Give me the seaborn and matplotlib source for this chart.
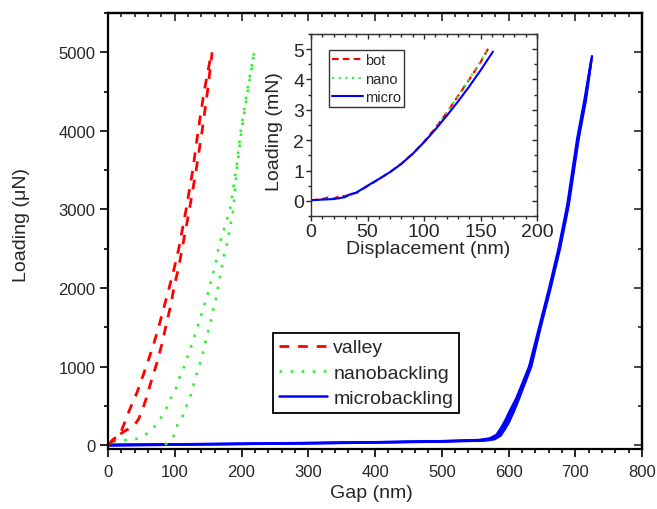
import matplotlib
matplotlib.use("Agg")
import matplotlib.pyplot as plt
import seaborn as sns
from matplotlib.ticker import MultipleLocator

# ---------------- main panel data (Gap in nm, Loading in uN) ----------------
valley_a_gap = [2, 6, 10, 15, 20, 25, 31, 37, 43, 48, 58, 68, 76, 84, 92, 99, 106, 117, 127, 135, 144, 155]
valley_a_load = [10, 60, 89, 110, 180, 290, 420, 546, 660, 778, 1019, 1273, 1506, 1760, 2014, 2246, 2500, 3000, 3500, 4000, 4500, 5000]
valley_b_gap = [0, 5, 10, 15, 20, 28, 34, 40, 46, 52, 57, 65, 73, 81, 87, 94, 99, 106, 111, 122, 132, 141, 149, 156]
valley_b_load = [0, 40, 70, 60, 150, 195, 215, 260, 334, 460, 588, 821, 1041, 1294, 1527, 1780, 2014, 2268, 2500, 3000, 3500, 4000, 4500, 5000]

nano_a_gap = [8, 15, 30, 43, 52, 60, 70, 79, 87, 94, 102, 107, 114, 119, 125, 130, 135, 140, 145, 150, 154, 158, 162, 165, 169, 183, 192, 199, 208, 219]
nano_a_load = [40, 59, 67, 80, 120, 152, 237, 343, 461, 596, 723, 859, 999, 1126, 1265, 1400, 1527, 1662, 1802, 1942, 2077, 2204, 2343, 2478, 2614, 3008, 3515, 4002, 4488, 4996]
nano_b_gap = [86, 89, 98, 100, 105, 114, 119, 125, 129, 134, 139, 143, 147, 151, 155, 158, 162, 165, 168, 171, 174, 178, 188, 193, 200, 209, 219]
nano_b_load = [0, 38, 110, 165, 279, 397, 533, 660, 799, 935, 1070, 1201, 1345, 1476, 1612, 1739, 1874, 2014, 2149, 2288, 2424, 2555, 3008, 3515, 4002, 4488, 4996]

micro_a_gap = [0, 100, 200, 300, 400, 500, 560, 575, 585, 592, 598, 605, 614, 632, 647, 662, 676, 689, 704, 715, 725]
micro_a_load = [0, 8, 16, 25, 35, 48, 62, 80, 127, 216, 305, 431, 596, 1000, 1500, 2000, 2500, 3050, 3900, 4400, 4950]
micro_b_gap = [0, 100, 200, 300, 400, 500, 565, 579, 588, 595, 601, 608, 616, 634, 648, 663, 677, 690, 705, 716, 724]
micro_b_load = [-5, 5, 14, 22, 33, 45, 58, 75, 120, 210, 300, 430, 600, 1000, 1500, 2000, 2500, 3050, 3900, 4400, 4900]
micro_c_gap = [0, 100, 200, 300, 400, 500, 555, 572, 582, 589, 595, 602, 612, 631, 646, 661, 675, 688, 703, 714, 723]
micro_c_load = [5, 10, 18, 27, 37, 50, 64, 85, 130, 220, 310, 435, 600, 1000, 1500, 2000, 2500, 3050, 3900, 4400, 4850]

# ---------------- inset data (Displacement in nm, Loading in mN) ----------------
bot_disp = [0, 10, 15, 20, 25, 30, 35, 40, 50, 60, 70, 80, 90, 100, 110, 120, 130, 140, 150, 157]
bot_load = [0.02, 0.06, 0.11, 0.07, 0.16, 0.16, 0.21, 0.26, 0.48, 0.71, 0.95, 1.23, 1.56, 1.95, 2.4, 2.9, 3.45, 4.0, 4.57, 5.03]
nano_disp = [0, 10, 15, 20, 25, 30, 35, 40, 50, 60, 70, 80, 90, 100, 110, 120, 130, 140, 150, 156]
nano_load = [0.01, 0.04, 0.06, 0.05, 0.09, 0.13, 0.18, 0.24, 0.47, 0.7, 0.94, 1.22, 1.55, 1.94, 2.39, 2.9, 3.46, 4.02, 4.6, 5.0]
micro_disp = [0, 10, 20, 30, 35, 40, 50, 60, 70, 80, 90, 100, 110, 120, 130, 140, 150, 161]
micro_load = [0.02, 0.04, 0.06, 0.12, 0.22, 0.27, 0.5, 0.72, 0.95, 1.22, 1.55, 1.93, 2.35, 2.8, 3.27, 3.77, 4.3, 4.92]

RED = "#ff0000"
GREEN = "#33ee33"
BLUE = "#0000ff"
DASH = (0, (3.5, 3.2))
DOT = (0, (1, 3.2))

sns.set_style("ticks")
plt.rcParams['font.family'] = ['Liberation Sans', 'DejaVu Sans']

fig = plt.figure(figsize=(6.57, 5.10), dpi=100)
ax = fig.add_axes([0.1644, 0.1176, 0.8128, 0.8549])


def draw(a, x, y, color, ls, lw, label=None):
    sns.lineplot(x=x, y=y, ax=a, sort=False, estimator=None, color=color,
                 linestyle=ls, linewidth=lw, label=label, legend=False)


draw(ax, micro_a_gap, micro_a_load, BLUE, "-", 1.8, "microbackling")
draw(ax, micro_b_gap, micro_b_load, BLUE, "-", 1.8)
draw(ax, micro_c_gap, micro_c_load, BLUE, "-", 1.8)
draw(ax, nano_a_gap, nano_a_load, GREEN, DOT, 1.9, "nanobackling")
draw(ax, nano_b_gap, nano_b_load, GREEN, DOT, 1.9)
draw(ax, valley_a_gap, valley_a_load, RED, DASH, 2.0, "valley")
draw(ax, valley_b_gap, valley_b_load, RED, DASH, 2.0)

ax.set_xlim(0, 800)
ax.set_ylim(-50, 5500)
ax.xaxis.set_major_locator(MultipleLocator(100))
ax.xaxis.set_minor_locator(MultipleLocator(20))
ax.yaxis.set_major_locator(MultipleLocator(1000))
ax.yaxis.set_minor_locator(MultipleLocator(500))
ax.tick_params(which='both', direction='out', width=1.2, labelsize=12, color='black')
ax.tick_params(axis='x', pad=5)
ax.tick_params(axis='y', pad=3)
ax.tick_params(which='major', length=6)
ax.tick_params(which='minor', length=3)
for s in ax.spines.values():
    s.set_linewidth(1.6)
    s.set_color('black')
    s.set_visible(True)

# mirrored ticks on top/right pointing inward
secx = ax.secondary_xaxis('top')
secx.xaxis.set_major_locator(MultipleLocator(100))
secx.xaxis.set_minor_locator(MultipleLocator(20))
secx.tick_params(which='both', direction='in', labeltop=False, width=1.2)
secx.tick_params(which='major', length=6)
secx.tick_params(which='minor', length=3)
secx.spines['top'].set_linewidth(1.6)
secy = ax.secondary_yaxis('right')
secy.yaxis.set_major_locator(MultipleLocator(1000))
secy.yaxis.set_minor_locator(MultipleLocator(500))
secy.tick_params(which='both', direction='in', labelright=False, width=1.2)
secy.tick_params(which='major', length=6)
secy.tick_params(which='minor', length=3)
secy.spines['right'].set_linewidth(1.6)

ax.set_xlabel("Gap (nm)", fontsize=14)
ax.set_ylabel("Loading (μN)", fontsize=14)
ax.xaxis.set_label_coords(0.494, -0.08)
ax.yaxis.set_label_coords(-0.146, 0.515)

handles, labels = ax.get_legend_handles_labels()
order = [labels.index(n) for n in ["valley", "nanobackling", "microbackling"]]
leg = ax.legend([handles[i] for i in order], [labels[i] for i in order],
                loc='upper left', bbox_to_anchor=(0.309, 0.266), fontsize=14,
                frameon=True, fancybox=False, framealpha=1, edgecolor='black',
                borderpad=0.3, labelspacing=0.4, handlelength=2.5,
                handletextpad=0.3, borderaxespad=0)
leg.get_frame().set_linewidth(1.3)

# ---------------- inset ----------------
ins = fig.add_axes([0.4734, 0.5745, 0.344, 0.3569])
ins.set_facecolor('white')
draw(ins, bot_disp, bot_load, RED, (0, (3.2, 2)), 1.5, "bot")
draw(ins, nano_disp, nano_load, GREEN, (0, (1, 2.2)), 1.5, "nano")
draw(ins, micro_disp, micro_load, BLUE, "-", 1.5, "micro")
ins.set_xlim(0, 200)
ins.set_ylim(-0.5, 5.5)
ins.xaxis.set_major_locator(MultipleLocator(50))
ins.xaxis.set_minor_locator(MultipleLocator(10))
ins.yaxis.set_major_locator(MultipleLocator(1))
ins.yaxis.set_minor_locator(MultipleLocator(0.5))
ins.tick_params(which='both', direction='out', width=1.0, labelsize=14, pad=1.5)
ins.tick_params(which='major', length=3.5)
ins.tick_params(which='minor', length=2)
for s in ins.spines.values():
    s.set_linewidth(1.0)
    s.set_color('#333333')
    s.set_visible(True)
isx = ins.secondary_xaxis('top')
isx.xaxis.set_major_locator(MultipleLocator(50))
isx.xaxis.set_minor_locator(MultipleLocator(10))
isx.tick_params(which='both', direction='in', labeltop=False, width=1.0)
isx.tick_params(which='major', length=3.5)
isx.tick_params(which='minor', length=2)
isy = ins.secondary_yaxis('right')
isy.yaxis.set_major_locator(MultipleLocator(1))
isy.yaxis.set_minor_locator(MultipleLocator(0.5))
isy.tick_params(which='both', direction='in', labelright=False, width=1.0)
isy.tick_params(which='major', length=3.5)
isy.tick_params(which='minor', length=2)

ins.set_xlabel("Displacement (nm)", fontsize=14)
ins.set_ylabel("Loading (mN)", fontsize=14)
ins.xaxis.set_label_coords(0.518, -0.13)
ins.yaxis.set_label_coords(-0.125, 0.47)

ileg = ins.legend(loc='upper left', bbox_to_anchor=(0.08, 0.91), fontsize=10.5,
                  frameon=True, fancybox=False, framealpha=1, edgecolor='#333333',
                  borderpad=0.2, labelspacing=0.3, handlelength=2.1,
                  handletextpad=0.15, borderaxespad=0)
ileg.get_frame().set_linewidth(1.0)

fig.savefig("out.png", dpi=100)
